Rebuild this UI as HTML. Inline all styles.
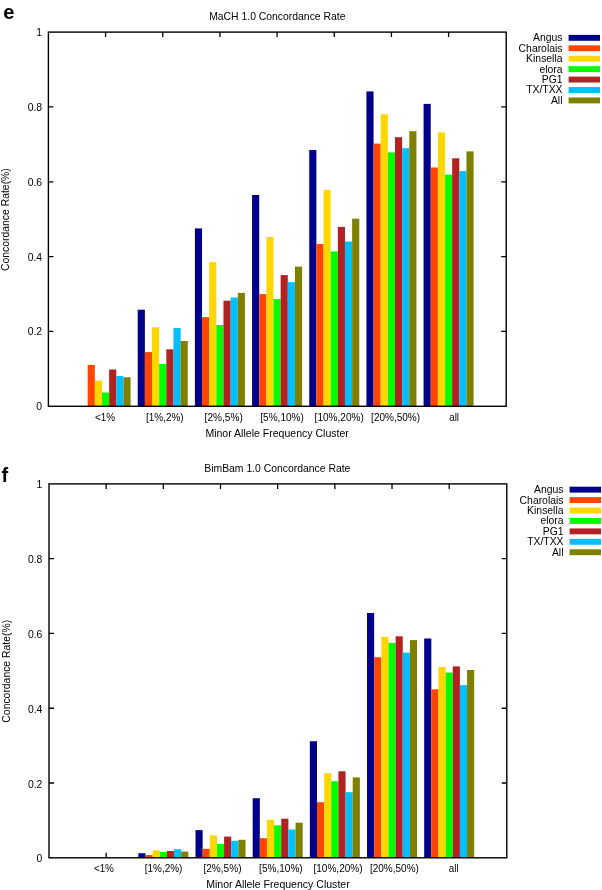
<!DOCTYPE html>
<html><head><meta charset="utf-8"><title>Concordance Rate</title>
<style>
html,body{margin:0;padding:0;background:#fff;}
svg{display:block;will-change:transform;}
text{font-family:"Liberation Sans",sans-serif;font-size:10.4px;fill:#000;}
</style></head><body>
<svg width="602" height="890" viewBox="0 0 602 890">
<rect width="602" height="890" fill="#fff"/>
<g transform="translate(0.0 0)">
<path d="M48.4 331.46h5M506.2 331.46h-5" stroke="#000" stroke-width="1.3"/>
<path d="M48.4 256.62h5M506.2 256.62h-5" stroke="#000" stroke-width="1.3"/>
<path d="M48.4 181.78h5M506.2 181.78h-5" stroke="#000" stroke-width="1.3"/>
<path d="M48.4 106.94h5M506.2 106.94h-5" stroke="#000" stroke-width="1.3"/>
<path d="M105.57 406.3v-5M105.57 32.1v5" stroke="#000" stroke-width="1.3"/>
<path d="M162.74 406.3v-5M162.74 32.1v5" stroke="#000" stroke-width="1.3"/>
<path d="M219.91 406.3v-5M219.91 32.1v5" stroke="#000" stroke-width="1.3"/>
<path d="M277.08 406.3v-5M277.08 32.1v5" stroke="#000" stroke-width="1.3"/>
<path d="M334.25 406.3v-5M334.25 32.1v5" stroke="#000" stroke-width="1.3"/>
<path d="M391.42 406.3v-5M391.42 32.1v5" stroke="#000" stroke-width="1.3"/>
<path d="M448.59 406.3v-5M448.59 32.1v5" stroke="#000" stroke-width="1.3"/>
<rect x="87.70" y="364.90" width="7.15" height="41.40" fill="#FF4500"/>
<rect x="94.85" y="380.50" width="7.15" height="25.80" fill="#FFD700"/>
<rect x="102.00" y="392.50" width="7.15" height="13.80" fill="#00FF00"/>
<rect x="109.14" y="369.50" width="7.15" height="36.80" fill="#B22222"/>
<rect x="116.29" y="375.90" width="7.15" height="30.40" fill="#00BFFF"/>
<rect x="123.44" y="377.30" width="7.15" height="29.00" fill="#808000"/>
<rect x="137.73" y="309.70" width="7.15" height="96.60" fill="#00008B"/>
<rect x="144.87" y="352.10" width="7.15" height="54.20" fill="#FF4500"/>
<rect x="152.02" y="327.20" width="7.15" height="79.10" fill="#FFD700"/>
<rect x="159.17" y="363.90" width="7.15" height="42.40" fill="#00FF00"/>
<rect x="166.31" y="349.30" width="7.15" height="57.00" fill="#B22222"/>
<rect x="173.46" y="328.00" width="7.15" height="78.30" fill="#00BFFF"/>
<rect x="180.61" y="341.00" width="7.15" height="65.30" fill="#808000"/>
<rect x="194.90" y="228.40" width="7.15" height="177.90" fill="#00008B"/>
<rect x="202.04" y="317.10" width="7.15" height="89.20" fill="#FF4500"/>
<rect x="209.19" y="262.20" width="7.15" height="144.10" fill="#FFD700"/>
<rect x="216.34" y="325.00" width="7.15" height="81.30" fill="#00FF00"/>
<rect x="223.48" y="300.70" width="7.15" height="105.60" fill="#B22222"/>
<rect x="230.63" y="297.50" width="7.15" height="108.80" fill="#00BFFF"/>
<rect x="237.78" y="292.90" width="7.15" height="113.40" fill="#808000"/>
<rect x="252.07" y="195.00" width="7.15" height="211.30" fill="#00008B"/>
<rect x="259.21" y="294.10" width="7.15" height="112.20" fill="#FF4500"/>
<rect x="266.36" y="236.90" width="7.15" height="169.40" fill="#FFD700"/>
<rect x="273.51" y="299.10" width="7.15" height="107.20" fill="#00FF00"/>
<rect x="280.65" y="275.10" width="7.15" height="131.20" fill="#B22222"/>
<rect x="287.80" y="282.10" width="7.15" height="124.20" fill="#00BFFF"/>
<rect x="294.95" y="266.60" width="7.15" height="139.70" fill="#808000"/>
<rect x="309.24" y="150.00" width="7.15" height="256.30" fill="#00008B"/>
<rect x="316.38" y="244.00" width="7.15" height="162.30" fill="#FF4500"/>
<rect x="323.53" y="189.80" width="7.15" height="216.50" fill="#FFD700"/>
<rect x="330.68" y="251.40" width="7.15" height="154.90" fill="#00FF00"/>
<rect x="337.82" y="226.90" width="7.15" height="179.40" fill="#B22222"/>
<rect x="344.97" y="241.50" width="7.15" height="164.80" fill="#00BFFF"/>
<rect x="352.12" y="218.70" width="7.15" height="187.60" fill="#808000"/>
<rect x="366.41" y="91.40" width="7.15" height="314.90" fill="#00008B"/>
<rect x="373.55" y="143.60" width="7.15" height="262.70" fill="#FF4500"/>
<rect x="380.70" y="114.30" width="7.15" height="292.00" fill="#FFD700"/>
<rect x="387.85" y="152.40" width="7.15" height="253.90" fill="#00FF00"/>
<rect x="394.99" y="137.20" width="7.15" height="269.10" fill="#B22222"/>
<rect x="402.14" y="148.20" width="7.15" height="258.10" fill="#00BFFF"/>
<rect x="409.29" y="131.20" width="7.15" height="275.10" fill="#808000"/>
<rect x="423.58" y="103.90" width="7.15" height="302.40" fill="#00008B"/>
<rect x="430.72" y="167.50" width="7.15" height="238.80" fill="#FF4500"/>
<rect x="437.87" y="132.40" width="7.15" height="273.90" fill="#FFD700"/>
<rect x="445.02" y="174.70" width="7.15" height="231.60" fill="#00FF00"/>
<rect x="452.16" y="158.30" width="7.15" height="248.00" fill="#B22222"/>
<rect x="459.31" y="171.10" width="7.15" height="235.20" fill="#00BFFF"/>
<rect x="466.46" y="151.40" width="7.15" height="254.90" fill="#808000"/>
<rect x="48.4" y="32.1" width="457.80" height="374.20" fill="none" stroke="#000" stroke-width="1.4"/>
</g>
<text x="42.10" y="410.30" text-anchor="end">0</text>
<text x="42.10" y="335.46" text-anchor="end">0.2</text>
<text x="42.10" y="260.62" text-anchor="end">0.4</text>
<text x="42.10" y="185.78" text-anchor="end">0.6</text>
<text x="42.10" y="110.94" text-anchor="end">0.8</text>
<text x="42.10" y="36.10" text-anchor="end">1</text>
<text x="95.10" y="421.20" textLength="20.00" lengthAdjust="spacingAndGlyphs">&lt;1%</text>
<text x="146.00" y="421.20" textLength="37.60" lengthAdjust="spacingAndGlyphs">[1%,2%)</text>
<text x="204.60" y="421.20" textLength="38.20" lengthAdjust="spacingAndGlyphs">[2%,5%)</text>
<text x="260.30" y="421.20" textLength="43.60" lengthAdjust="spacingAndGlyphs">[5%,10%)</text>
<text x="314.60" y="421.20" textLength="49.30" lengthAdjust="spacingAndGlyphs">[10%,20%)</text>
<text x="371.10" y="421.20" textLength="49.00" lengthAdjust="spacingAndGlyphs">[20%,50%)</text>
<text x="449.20" y="421.20" textLength="9.80" lengthAdjust="spacingAndGlyphs">all</text>
<text x="205.40" y="436.70" textLength="143.5" lengthAdjust="spacingAndGlyphs">Minor Allele Frequency Cluster</text>
<text x="277.30" y="20.20" text-anchor="middle">MaCH 1.0 Concordance Rate</text>
<text transform="translate(9.30 219.60) rotate(-90)" text-anchor="middle">Concordance Rate(%)</text>
<text x="562.50" y="41.30" text-anchor="end">Angus</text>
<rect x="568.60" y="34.90" width="31.4" height="5.9" fill="#00008B"/>
<text x="562.50" y="51.73" text-anchor="end">Charolais</text>
<rect x="568.60" y="45.33" width="31.4" height="5.9" fill="#FF4500"/>
<text x="562.50" y="62.16" text-anchor="end">Kinsella</text>
<rect x="568.60" y="55.76" width="31.4" height="5.9" fill="#FFD700"/>
<text x="562.50" y="72.59" text-anchor="end">elora</text>
<rect x="568.60" y="66.19" width="31.4" height="5.9" fill="#00FF00"/>
<text x="562.50" y="83.02" text-anchor="end">PG1</text>
<rect x="568.60" y="76.62" width="31.4" height="5.9" fill="#B22222"/>
<text x="562.50" y="93.45" text-anchor="end">TX/TXX</text>
<rect x="568.60" y="87.05" width="31.4" height="5.9" fill="#00BFFF"/>
<text x="562.50" y="103.88" text-anchor="end">All</text>
<rect x="568.60" y="97.48" width="31.4" height="5.9" fill="#808000"/>
<text x="3.3" y="18.9" style="font-size:20px;font-weight:bold">e</text>
<g transform="translate(0.6 0)">
<path d="M48.4 783.02h5M506.2 783.02h-5" stroke="#000" stroke-width="1.3"/>
<path d="M48.4 708.24h5M506.2 708.24h-5" stroke="#000" stroke-width="1.3"/>
<path d="M48.4 633.46h5M506.2 633.46h-5" stroke="#000" stroke-width="1.3"/>
<path d="M48.4 558.68h5M506.2 558.68h-5" stroke="#000" stroke-width="1.3"/>
<path d="M105.57 857.8v-5M105.57 483.9v5" stroke="#000" stroke-width="1.3"/>
<path d="M162.74 857.8v-5M162.74 483.9v5" stroke="#000" stroke-width="1.3"/>
<path d="M219.91 857.8v-5M219.91 483.9v5" stroke="#000" stroke-width="1.3"/>
<path d="M277.08 857.8v-5M277.08 483.9v5" stroke="#000" stroke-width="1.3"/>
<path d="M334.25 857.8v-5M334.25 483.9v5" stroke="#000" stroke-width="1.3"/>
<path d="M391.42 857.8v-5M391.42 483.9v5" stroke="#000" stroke-width="1.3"/>
<path d="M448.59 857.8v-5M448.59 483.9v5" stroke="#000" stroke-width="1.3"/>
<rect x="137.73" y="853.20" width="7.15" height="4.60" fill="#00008B"/>
<rect x="144.87" y="855.00" width="7.15" height="2.80" fill="#FF4500"/>
<rect x="152.02" y="850.40" width="7.15" height="7.40" fill="#FFD700"/>
<rect x="159.17" y="852.00" width="7.15" height="5.80" fill="#00FF00"/>
<rect x="166.31" y="851.00" width="7.15" height="6.80" fill="#B22222"/>
<rect x="173.46" y="849.20" width="7.15" height="8.60" fill="#00BFFF"/>
<rect x="180.61" y="851.60" width="7.15" height="6.20" fill="#808000"/>
<rect x="194.90" y="830.10" width="7.15" height="27.70" fill="#00008B"/>
<rect x="202.04" y="848.80" width="7.15" height="9.00" fill="#FF4500"/>
<rect x="209.19" y="835.40" width="7.15" height="22.40" fill="#FFD700"/>
<rect x="216.34" y="843.80" width="7.15" height="14.00" fill="#00FF00"/>
<rect x="223.48" y="836.60" width="7.15" height="21.20" fill="#B22222"/>
<rect x="230.63" y="840.80" width="7.15" height="17.00" fill="#00BFFF"/>
<rect x="237.78" y="839.80" width="7.15" height="18.00" fill="#808000"/>
<rect x="252.07" y="798.20" width="7.15" height="59.60" fill="#00008B"/>
<rect x="259.21" y="838.20" width="7.15" height="19.60" fill="#FF4500"/>
<rect x="266.36" y="819.70" width="7.15" height="38.10" fill="#FFD700"/>
<rect x="273.51" y="825.30" width="7.15" height="32.50" fill="#00FF00"/>
<rect x="280.65" y="818.70" width="7.15" height="39.10" fill="#B22222"/>
<rect x="287.80" y="829.50" width="7.15" height="28.30" fill="#00BFFF"/>
<rect x="294.95" y="822.70" width="7.15" height="35.10" fill="#808000"/>
<rect x="309.24" y="741.20" width="7.15" height="116.60" fill="#00008B"/>
<rect x="316.38" y="802.20" width="7.15" height="55.60" fill="#FF4500"/>
<rect x="323.53" y="773.10" width="7.15" height="84.70" fill="#FFD700"/>
<rect x="330.68" y="781.20" width="7.15" height="76.60" fill="#00FF00"/>
<rect x="337.82" y="771.30" width="7.15" height="86.50" fill="#B22222"/>
<rect x="344.97" y="792.20" width="7.15" height="65.60" fill="#00BFFF"/>
<rect x="352.12" y="777.40" width="7.15" height="80.40" fill="#808000"/>
<rect x="366.41" y="613.00" width="7.15" height="244.80" fill="#00008B"/>
<rect x="373.55" y="657.20" width="7.15" height="200.60" fill="#FF4500"/>
<rect x="380.70" y="636.90" width="7.15" height="220.90" fill="#FFD700"/>
<rect x="387.85" y="642.90" width="7.15" height="214.90" fill="#00FF00"/>
<rect x="394.99" y="636.30" width="7.15" height="221.50" fill="#B22222"/>
<rect x="402.14" y="652.60" width="7.15" height="205.20" fill="#00BFFF"/>
<rect x="409.29" y="640.10" width="7.15" height="217.70" fill="#808000"/>
<rect x="423.58" y="638.50" width="7.15" height="219.30" fill="#00008B"/>
<rect x="430.72" y="689.30" width="7.15" height="168.50" fill="#FF4500"/>
<rect x="437.87" y="667.00" width="7.15" height="190.80" fill="#FFD700"/>
<rect x="445.02" y="672.60" width="7.15" height="185.20" fill="#00FF00"/>
<rect x="452.16" y="666.40" width="7.15" height="191.40" fill="#B22222"/>
<rect x="459.31" y="685.10" width="7.15" height="172.70" fill="#00BFFF"/>
<rect x="466.46" y="670.00" width="7.15" height="187.80" fill="#808000"/>
<rect x="48.4" y="483.9" width="457.80" height="373.90" fill="none" stroke="#000" stroke-width="1.4"/>
</g>
<text x="42.40" y="862.30" text-anchor="end">0</text>
<text x="42.40" y="787.52" text-anchor="end">0.2</text>
<text x="42.40" y="712.74" text-anchor="end">0.4</text>
<text x="42.40" y="637.96" text-anchor="end">0.6</text>
<text x="42.40" y="563.18" text-anchor="end">0.8</text>
<text x="42.40" y="488.40" text-anchor="end">1</text>
<text x="93.90" y="872.10" textLength="20.00" lengthAdjust="spacingAndGlyphs">&lt;1%</text>
<text x="144.80" y="872.10" textLength="37.60" lengthAdjust="spacingAndGlyphs">[1%,2%)</text>
<text x="203.40" y="872.10" textLength="38.20" lengthAdjust="spacingAndGlyphs">[2%,5%)</text>
<text x="259.10" y="872.10" textLength="43.60" lengthAdjust="spacingAndGlyphs">[5%,10%)</text>
<text x="313.40" y="872.10" textLength="49.30" lengthAdjust="spacingAndGlyphs">[10%,20%)</text>
<text x="369.90" y="872.10" textLength="49.00" lengthAdjust="spacingAndGlyphs">[20%,50%)</text>
<text x="448.80" y="872.10" textLength="9.80" lengthAdjust="spacingAndGlyphs">all</text>
<text x="206.20" y="888.20" textLength="143.5" lengthAdjust="spacingAndGlyphs">Minor Allele Frequency Cluster</text>
<text x="277.30" y="472.00" text-anchor="middle">BimBam 1.0 Concordance Rate</text>
<text transform="translate(9.80 671.25) rotate(-90)" text-anchor="middle">Concordance Rate(%)</text>
<text x="563.50" y="493.10" text-anchor="end">Angus</text>
<rect x="569.60" y="486.70" width="31.4" height="5.9" fill="#00008B"/>
<text x="563.50" y="503.53" text-anchor="end">Charolais</text>
<rect x="569.60" y="497.13" width="31.4" height="5.9" fill="#FF4500"/>
<text x="563.50" y="513.96" text-anchor="end">Kinsella</text>
<rect x="569.60" y="507.56" width="31.4" height="5.9" fill="#FFD700"/>
<text x="563.50" y="524.39" text-anchor="end">elora</text>
<rect x="569.60" y="517.99" width="31.4" height="5.9" fill="#00FF00"/>
<text x="563.50" y="534.82" text-anchor="end">PG1</text>
<rect x="569.60" y="528.42" width="31.4" height="5.9" fill="#B22222"/>
<text x="563.50" y="545.25" text-anchor="end">TX/TXX</text>
<rect x="569.60" y="538.85" width="31.4" height="5.9" fill="#00BFFF"/>
<text x="563.50" y="555.68" text-anchor="end">All</text>
<rect x="569.60" y="549.28" width="31.4" height="5.9" fill="#808000"/>
<text x="1.4" y="482.4" style="font-size:20px;font-weight:bold">f</text>
</svg>
</body></html>
